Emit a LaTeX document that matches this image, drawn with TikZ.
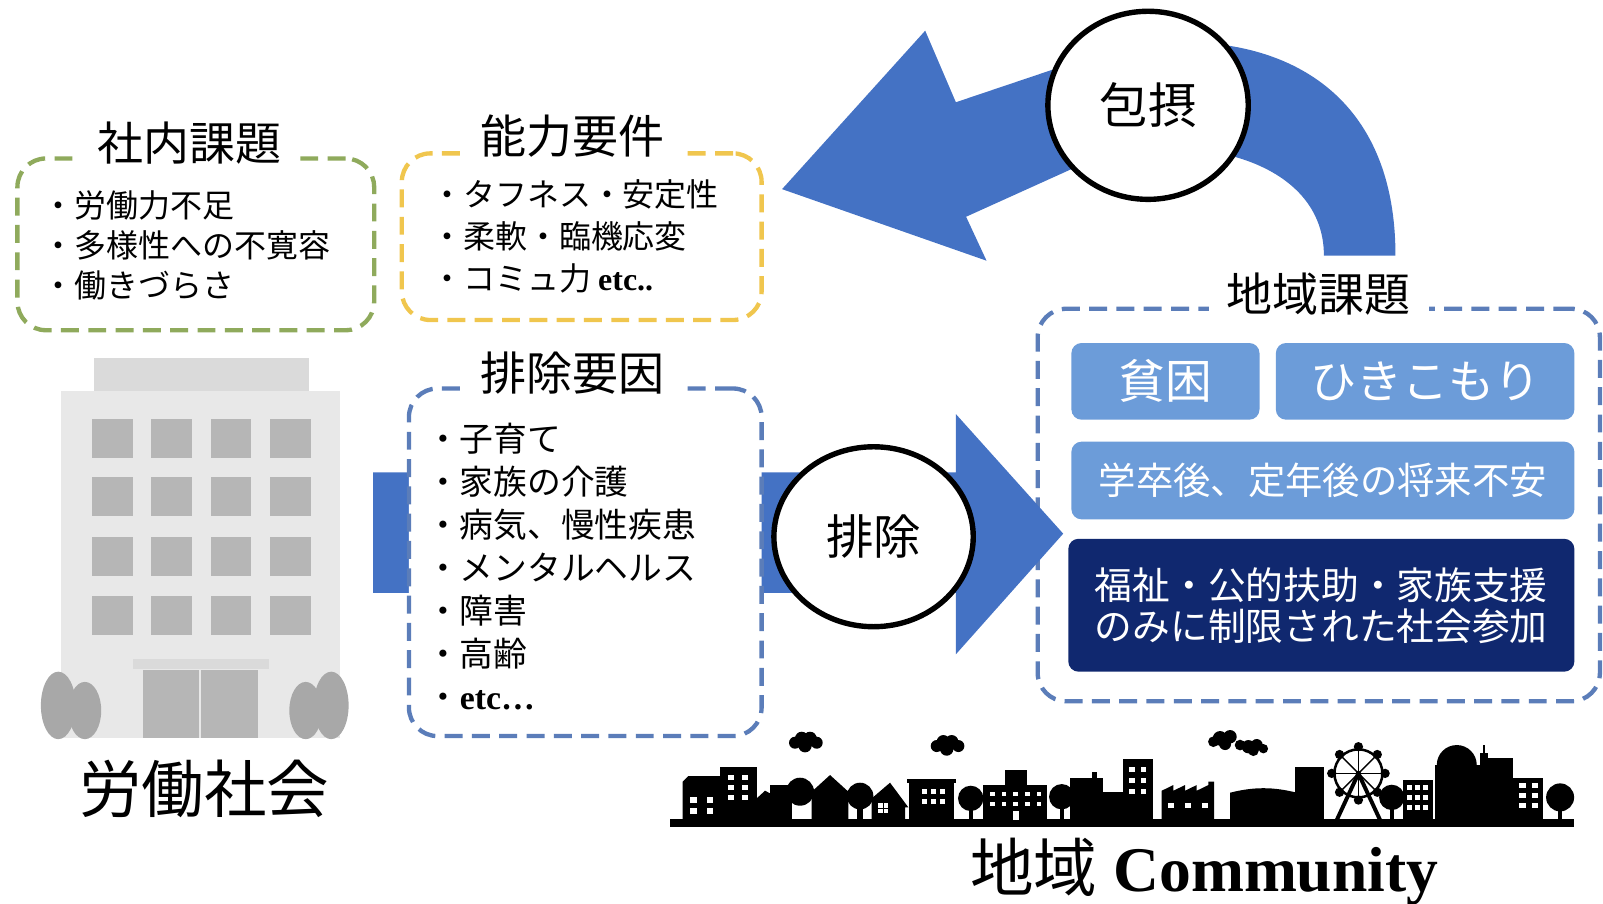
\documentclass[tikz,border=0pt]{standalone}
\usepackage{fontspec}
\setmainfont{Liberation Serif}
\newfontfamily\jp{Noto Sans CJK JP}
\usetikzlibrary{shapes.geometric}

\definecolor{arrowblue}{HTML}{4472C4}
\definecolor{dashgreen}{HTML}{8FAA5C}
\definecolor{dashyellow}{HTML}{F0C64E}
\definecolor{dashblue}{HTML}{5B7DB9}
\definecolor{tileblue}{HTML}{6C9CD9}
\definecolor{navy}{HTML}{10286F}
\definecolor{wall}{HTML}{E8E8E8}
\definecolor{roof}{HTML}{DADADA}
\definecolor{pane}{HTML}{B6B6B6}
\definecolor{shrub}{HTML}{A8A8A8}

\tikzset{
  dashbox/.style={rounded corners=2.8mm, line width=1.2pt, dash pattern=on 5pt off 2.6pt, fill=white, inner sep=0pt},
  heading/.style={fill=white, inner xsep=5pt, inner ysep=0pt, font=\jp\fontsize{12.8}{14}\selectfont},
  items/.style={anchor=west, inner sep=0pt, align=left},
  ring/.style={ellipse, draw=black, line width=1.5pt, fill=white, inner sep=0pt},
  tile/.style={rounded corners=1mm, fill=tileblue, text=white, inner sep=0pt},
}

\begin{document}
\begin{tikzpicture}[x=0.1mm, y=-0.1mm]
  \useasboundingbox (0,0) rectangle (1568,884);

  % region box first, the arrow tips run over its edge
  \node[dashbox, draw=dashblue, minimum width=55mm, minimum height=38.4mm] (areaBox) at (1290,494) {};

  % curved arrow back to the company side
  \fill[arrowblue] (765,185) -- (905,30) -- (935,100) -- (1030,68)
    .. controls (1150,15) and (1365,25) .. (1365,250) -- (1295,250)
    .. controls (1295,150) and (1150,125) .. (1060,160) -- (945,212) -- (965,255) -- cycle;

  % straight arrow out to the region
  \fill[arrowblue] (365,462) -- (935,462) -- (935,405) -- (1040,522)
    -- (935,640) -- (935,580) -- (365,580) -- cycle;

  % company issues
  \node[dashbox, draw=dashgreen, minimum width=34.9mm, minimum height=16.8mm] (naiBox) at (191.5,239) {};
  \node[heading] (naiTitle) at (185,140) {社内課題};
  \node[items, font=\jp\fontsize{8.9}{11.1}\selectfont] (naiList) at (41,240)
    {・労働力不足\\・多様性への不寛容\\・働きづらさ};

  % required skills
  \node[dashbox, draw=dashyellow, minimum width=35.2mm, minimum height=16.3mm] (skillBox) at (569,231.5) {};
  \node[heading] (skillTitle) at (560,133) {能力要件};
  \node[items, font=\jp\fontsize{8.9}{11.7}\selectfont] (skillList) at (421,231)
    {・タフネス・安定性\\・柔軟・臨機応変\\・コミュ力 {\rmfamily\bfseries etc..}};

  % exclusion factors
  \node[dashbox, draw=dashblue, minimum width=34.5mm, minimum height=34mm] (causeBox) at (572.5,550) {};
  \node[heading] (causeTitle) at (560,365) {排除要因};
  \node[items, font=\jp\fontsize{9.4}{11.95}\selectfont] (causeList) at (416,554)
    {・子育て\\・家族の介護\\・病気、慢性疾患\\・メンタルヘルス\\・障害\\・高齢\\・{\rmfamily\bfseries etc…}};

  % region issues
  \node[heading] (areaTitle) at (1290,288) {地域課題};
  \node[tile, minimum width=18.4mm, minimum height=7.5mm, font=\jp\fontsize{13}{15}\selectfont] (poverty) at (1140,373) {貧困};
  \node[tile, minimum width=29.2mm, minimum height=7.5mm, font=\jp\fontsize{12.8}{15}\selectfont] (recluse) at (1394,373) {ひきこもり};
  \node[tile, minimum width=49.2mm, minimum height=7.6mm, font=\jp\fontsize{10.4}{12}\selectfont] (future) at (1294,470) {学卒後、定年後の将来不安};
  \node[tile, fill=navy, minimum width=49.5mm, minimum height=13mm, align=center,
        font=\jp\fontsize{10.5}{11.4}\selectfont] (welfare) at (1292.5,592)
    {福祉・公的扶助・家族支援\\のみに制限された社会参加};

  % labels on the arrows
  \node[ring, minimum width=19.5mm, minimum height=17.6mm, font=\jp\fontsize{13.2}{15}\selectfont] (exclude) at (854.5,525) {排除};
  \node[ring, minimum width=19.6mm, minimum height=18.4mm, font=\jp\fontsize{13.5}{15}\selectfont] (include) at (1123,103) {包摂};

  % office building
  \fill[roof] (92,350) rectangle (302,383);
  \fill[wall] (60,382) rectangle (333,722);
  \foreach \x in {90,148,206,264}
    \foreach \y in {410,467,525,583}
      \fill[pane] (\x,\y) rectangle +(40,38);
  \fill[roof] (130,645) rectangle (263,654);
  \fill[pane] (140,655) rectangle (195,722);
  \fill[pane] (197,655) rectangle (252,722);
  \fill[shrub] (57,690) ellipse (17 and 33);
  \fill[shrub] (83,695) ellipse (16 and 28);
  \fill[shrub] (299,695) ellipse (16 and 28);
  \fill[shrub] (324,690) ellipse (17 and 33);
  \node[font=\jp\fontsize{17.4}{20}\selectfont] (work) at (200,772) {労働社会};

  % town skyline
  \fill (655,801) rectangle (1540,809);
  \begin{scope}[shift={(645.6,704.3)}, scale=0.3261]
    \fill (68,300) -- (68,185) -- (85,168) -- (180,168) -- (180,300) -- cycle;
    \fill (180,140) rectangle (290,300);
    \fill (290,300) -- (290,235) -- (315,212) -- (340,225) -- (340,300) -- cycle;
    \fill (330,195) rectangle (395,300);
    \fill (420,215) circle (42);
    \fill (455,300) -- (455,215) -- (510,165) -- (565,215) -- (565,300) -- cycle;
    \fill (600,228) circle (40);
    \fill (592,250) rectangle (608,300);
    \fill (635,300) -- (635,235) -- (690,188) -- (745,262) -- (735,262) -- (735,300) -- cycle;
    \fill (742,178) rectangle (888,190);
    \fill (748,190) rectangle (882,300);
    \fill (932,235) circle (38);
    \fill (926,250) rectangle (938,300);
    \fill (970,195) rectangle (1160,300);
    \fill (1035,150) rectangle (1100,195);
    \fill (1205,230) circle (38);
    \fill (1199,250) rectangle (1211,300);
    \fill (1230,175) rectangle (1330,300);
    \fill (1295,155) rectangle (1310,175);
    \fill (1330,215) rectangle (1400,300);
    % windows
    \foreach \x in {90,140}
      \foreach \y in {232,265}
        \fill[white] (\x,\y) rectangle +(20,16);
    \foreach \x in {205,245}
      \foreach \y in {165,195,225}
        \fill[white] (\x,\y) rectangle +(18,14);
    \foreach \x in {400,425}
      \fill[white] (\x,282) rectangle +(14,14);
    \foreach \x in {655,672}
      \foreach \y in {250,267}
        \fill[white] (\x,\y) rectangle +(13,13);
    \foreach \x in {785,812,839}
      \foreach \y in {208,238}
        \fill[white] (\x,\y) rectangle +(16,14);
    \foreach \x in {990,1025,1060,1095,1130}
      \foreach \y in {215,245}
        \fill[white] (\x,\y) rectangle +(14,13);
    \fill[white] (1060,272) rectangle (1078,300);
    \fill[white] (1215,284) rectangle +(12,12);
    % clouds
    \foreach \cx/\cy in {435/65, 860/75}
      \fill (\cx-30,\cy+3) circle (18) (\cx-10,\cy-10) circle (20) (\cx+15,\cy-10) circle (20)
            (\cx+35,\cy+3) circle (18) (\cx,\cy+12) circle (20);
  \end{scope}
  \begin{scope}[shift={(1095.6,704.3)}, scale=0.3261]
    \fill (10,118) rectangle (100,300);
    \foreach \x in {28,62}
      \foreach \y in {140,175,208}
        \fill[white] (\x,\y) rectangle +(17,15);
    % factory
    \fill (125,300) -- (125,212) -- (160,195) -- (160,212) -- (195,195) -- (195,212)
      -- (230,195) -- (230,212) -- (265,195) -- (265,185) -- (282,185) -- (282,300) -- cycle;
    \foreach \x in {145,195,245}
      \fill[white] (\x,250) rectangle +(18,15);
    % hall and block
    \fill (330,300) -- (330,218) .. controls (400,200) and (460,200) .. (530,218) -- (530,300) -- cycle;
    \fill (525,140) rectangle (612,300);
    % ferris wheel
    \draw[line width=0.7pt] (715,160) circle (72);
    \foreach \a in {0,45,...,315} {
      \draw[line width=0.4pt] (715,160) -- ++(\a:72);
      \fill (715,160) ++(\a:80) circle (14);
    }
    \draw[line width=1.1pt] (715,160) -- (650,300) (715,160) -- (780,300);
    \fill (715,160) circle (8);
    \fill (815,232) circle (38);
    \fill (809,255) rectangle (821,300);
    \fill (850,180) rectangle (940,300);
    \foreach \x in {862,886,910}
      \foreach \y in {195,225,255}
        \fill[white] (\x,\y) rectangle +(15,14);
    % domed block
    \fill (1010,135) circle (60);
    \fill (945,135) rectangle (1090,300);
    \fill (1080,100) rectangle (1105,300);
    \fill (1090,75) rectangle (1095,100);
    \fill (1100,115) rectangle (1180,300);
    \fill (1180,175) rectangle (1270,300);
    \foreach \x in {1198,1235}
      \foreach \y in {190,220,250}
        \fill[white] (\x,\y) rectangle +(20,14);
    \fill (1320,232) circle (42);
    \fill (1314,255) rectangle (1326,300);
    % cloud
    \fill (280,65) circle (16) (300,55) circle (22) (330,50) circle (20) (315,72) circle (18)
          (360,75) circle (16) (385,80) circle (20) (410,75) circle (18) (400,92) circle (16) (430,86) circle (14);
  \end{scope}
  \node[font=\fontsize{17.7}{20}\selectfont] (town) at (1178,853) {{\jp 地域} \bfseries Community};
\end{tikzpicture}
\end{document}
